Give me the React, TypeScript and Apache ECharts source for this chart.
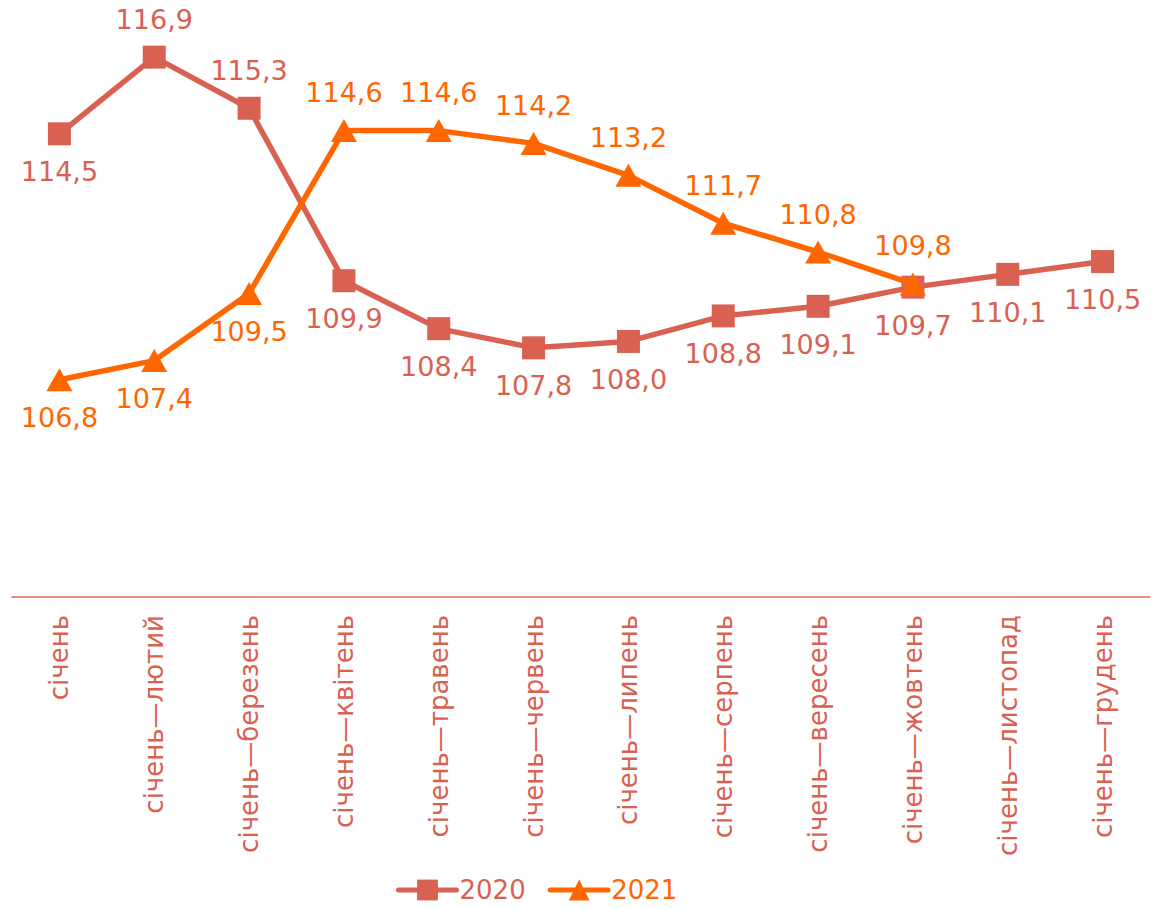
import React, { useEffect, useRef } from "react";
import * as echarts from "echarts";

const categories = [
  "січень",
  "січень—лютий",
  "січень—березень",
  "січень—квітень",
  "січень—травень",
  "січень—червень",
  "січень—липень",
  "січень—серпень",
  "січень—вересень",
  "січень—жовтень",
  "січень—листопад",
  "січень—грудень",
];
const values2020 = [114.5, 116.9, 115.3, 109.9, 108.4, 107.8, 108.0, 108.8, 109.1, 109.7, 110.1, 110.5];
const values2021 = [106.8, 107.4, 109.5, 114.6, 114.6, 114.2, 113.2, 111.7, 110.8, 109.8, null, null];
const labelPos2020 = ["bottom", "top", "top", "bottom", "bottom", "bottom", "bottom", "bottom", "bottom", "bottom", "bottom", "bottom"];
const labelPos2021 = ["bottom", "bottom", "bottom", "top", "top", "top", "top", "top", "top", "top", "top", "top"];

const C2020 = "#d96152";
const C2021 = "#ff6600";
const FONT = "'DejaVu Sans', Verdana, sans-serif";

export default function App() {
  const ref = useRef<HTMLDivElement>(null);
  useEffect(() => {
    document.body.style.margin = "0";
    const chart = echarts.init(ref.current!, null, { renderer: "svg" });
    const fmt = (p: any) => (p.value == null ? "" : Number(p.value).toFixed(1).replace(".", ","));
    chart.setOption({
      animation: false,
      textStyle: { fontFamily: FONT },
      grid: { left: 12, right: 15, top: 22, bottom: 311, containLabel: false },
      legend: {
        top: 872,
        left: 391,
        itemWidth: 58,
        itemHeight: 26,
        itemGap: 22,
        lineStyle: { width: 5, cap: "round" },
        textStyle: { fontSize: 26, fontFamily: FONT, padding: [0, 0, 0, -2] },
        data: [
          { name: "2020", textStyle: { color: C2020 } },
          { name: "2021", textStyle: { color: C2021 } },
        ],
      },
      xAxis: {
        type: "category",
        data: categories,
        boundaryGap: true,
        axisLine: { lineStyle: { color: "#e06a5a", width: 1.5 } },
        axisTick: { show: false },
        axisLabel: {
          rotate: 90,
          interval: 0,
          margin: 18,
          fontSize: 26,
          fontFamily: FONT,
          color: C2020,
        },
      },
      yAxis: {
        type: "value",
        min: 100,
        max: 118,
        show: false,
        splitLine: { show: false },
      },
      series: [
        {
          name: "2020",
          type: "line",
          data: values2020.map((v, i) => ({
            value: v,
            label: { position: labelPos2020[i] },
          })),
          symbol: "rect",
          symbolSize: 23,
          lineStyle: { color: C2020, width: 5.5, cap: "round" },
          itemStyle: { color: C2020 },
          label: {
            show: true,
            formatter: fmt,
            fontSize: 27,
            fontFamily: FONT,
            color: C2020,
            distance: 13,
          },
          z: 2,
        },
        {
          name: "2021",
          type: "line",
          data: values2021.map((v, i) => ({
            value: v,
            label: { position: labelPos2021[i] },
          })),
          symbol: "triangle",
          symbolSize: [26, 23],
          lineStyle: { color: C2021, width: 5.5, cap: "round" },
          itemStyle: { color: C2021 },
          label: {
            show: true,
            formatter: fmt,
            fontSize: 27,
            fontFamily: FONT,
            color: C2021,
            distance: 13,
          },
          z: 3,
        },
      ],
    });
    return () => chart.dispose();
  }, []);
  return <div ref={ref} style={{ width: 1165, height: 908 }} />;
}
